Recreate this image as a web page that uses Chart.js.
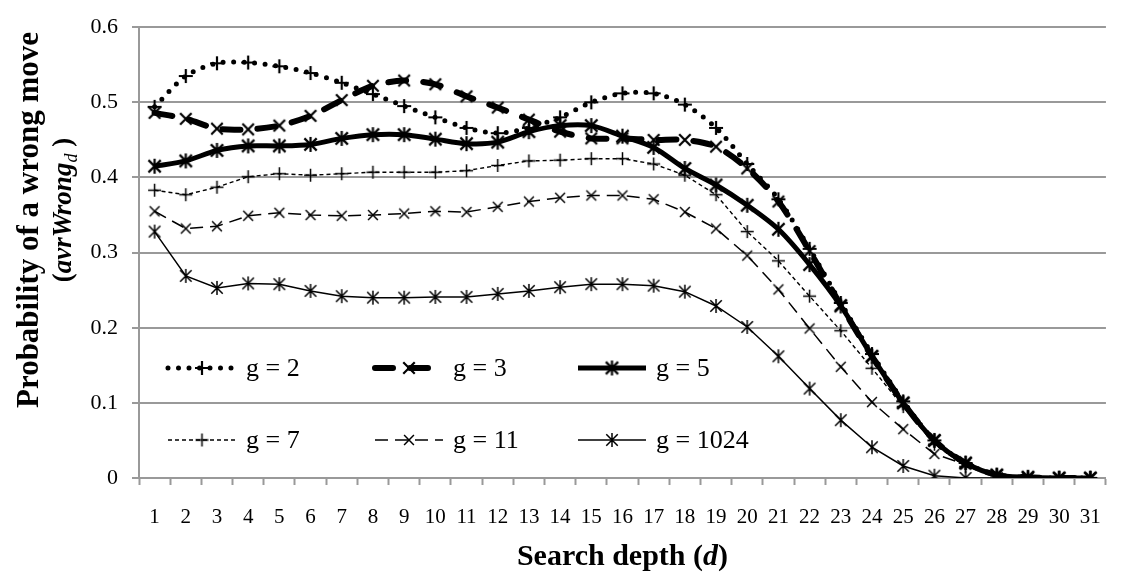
<!DOCTYPE html>
<html>
<head>
<meta charset="utf-8">
<script src="https://cdn.jsdelivr.net/npm/chart.js@4"></script>
<style>
  body { margin: 0; background: #fff; }
  #grafico { display: block; }
</style>
</head>
<body>
<canvas id="grafico" width="1121" height="573"></canvas>
<script>
// Profundidades de búsqueda (eje x)
const profundidades = Array.from({ length: 31 }, (_, i) => String(i + 1));

// Probabilidad de un movimiento erróneo para cada valor de g
const g2 = [0.494, 0.535, 0.552, 0.553, 0.548, 0.539, 0.526, 0.511, 0.495, 0.480, 0.466, 0.459, 0.466, 0.480, 0.500, 0.512, 0.512, 0.497, 0.466, 0.418, 0.371, 0.305, 0.233, 0.165, 0.102, 0.050, 0.020, 0.004, 0.001, 0, 0];
const g3 = [0.486, 0.478, 0.465, 0.464, 0.469, 0.482, 0.503, 0.522, 0.529, 0.524, 0.508, 0.493, 0.477, 0.461, 0.452, 0.452, 0.450, 0.450, 0.441, 0.412, 0.368, 0.302, 0.230, 0.162, 0.100, 0.050, 0.020, 0.004, 0.001, 0, 0];
const g5 = [0.415, 0.422, 0.436, 0.442, 0.442, 0.444, 0.452, 0.457, 0.457, 0.451, 0.445, 0.447, 0.461, 0.469, 0.469, 0.455, 0.440, 0.412, 0.390, 0.363, 0.331, 0.284, 0.229, 0.162, 0.100, 0.050, 0.020, 0.004, 0.001, 0, 0];
const g7 = [0.383, 0.377, 0.387, 0.401, 0.405, 0.403, 0.405, 0.407, 0.407, 0.407, 0.409, 0.416, 0.422, 0.423, 0.425, 0.425, 0.418, 0.403, 0.377, 0.328, 0.289, 0.242, 0.196, 0.146, 0.095, 0.045, 0.015, 0.003, 0, 0, 0];
const g11 = [0.355, 0.332, 0.335, 0.349, 0.353, 0.350, 0.349, 0.350, 0.352, 0.355, 0.354, 0.361, 0.368, 0.373, 0.376, 0.376, 0.371, 0.354, 0.332, 0.296, 0.251, 0.199, 0.148, 0.101, 0.065, 0.032, 0.018, 0.004, 0, 0, 0];
const g1024 = [0.328, 0.269, 0.253, 0.259, 0.258, 0.249, 0.242, 0.240, 0.240, 0.241, 0.241, 0.245, 0.249, 0.254, 0.258, 0.258, 0.256, 0.248, 0.229, 0.201, 0.162, 0.119, 0.077, 0.041, 0.016, 0.003, 0, 0, 0, 0, 0];

const etiquetas = ["g = 2", "g = 3", "g = 5", "g = 7", "g = 11", "g = 1024"];
const ticksY = [0, 0.1, 0.2, 0.3, 0.4, 0.5, 0.6];

const FUENTE = '"Liberation Serif", "Times New Roman", serif';
const GRIS = "#999999";

// Marcadores dibujados a mano: "mas" (+), "equis" (x), "estrella" (x con barra vertical)
function crearMarcador(tipo, tam, grosor) {
  const c = document.createElement("canvas");
  c.width = c.height = tam + 4;
  const ctx = c.getContext("2d");
  const m = c.width / 2;
  const r = tam / 2;
  ctx.strokeStyle = "#000";
  ctx.lineWidth = grosor;
  ctx.beginPath();
  if (tipo === "mas") {
    ctx.moveTo(m - r, m); ctx.lineTo(m + r, m);
    ctx.moveTo(m, m - r); ctx.lineTo(m, m + r);
  } else {
    const d = r * 0.82;
    ctx.moveTo(m - d, m - d); ctx.lineTo(m + d, m + d);
    ctx.moveTo(m - d, m + d); ctx.lineTo(m + d, m - d);
    if (tipo === "estrella") {
      ctx.moveTo(m, m - r); ctx.lineTo(m, m + r);
    }
  }
  ctx.stroke();
  return c;
}

function serie(label, data, estilo) {
  return Object.assign({
    label: label,
    data: data,
    borderColor: "#000",
    backgroundColor: "#000",
    fill: false,
    tension: 0,
    pointHitRadius: 0,
  }, estilo);
}

const datasets = [
  serie(etiquetas[0], g2, { borderWidth: 5, borderDash: [0, 10.5], borderCapStyle: "round", tension: 0.3, pointStyle: crearMarcador("mas", 14, 2.2) }),
  serie(etiquetas[1], g3, { borderWidth: 6, borderDash: [18, 17], borderCapStyle: "round", tension: 0.3, pointStyle: crearMarcador("equis", 14, 2.2) }),
  serie(etiquetas[2], g5, { borderWidth: 5, tension: 0.3, pointStyle: crearMarcador("estrella", 15, 2.2) }),
  serie(etiquetas[3], g7, { borderWidth: 1.4, borderDash: [4, 3], pointStyle: crearMarcador("mas", 13, 1.5) }),
  serie(etiquetas[4], g11, { borderWidth: 1.5, borderDash: [13, 7], pointStyle: crearMarcador("equis", 12, 1.5) }),
  serie(etiquetas[5], g1024, { borderWidth: 1.5, pointStyle: crearMarcador("estrella", 14, 1.5) }),
];

// Leyenda en tres columnas dentro del área del gráfico
const leyenda = {
  id: "leyendaPropia",
  afterDatasetsDraw(chart) {
    const ctx = chart.ctx;
    const columnas = [168, 375, 578];
    const filas = [368, 440];
    chart.data.datasets.forEach((ds, i) => {
      const x0 = columnas[i % 3];
      const x1 = x0 + 68;
      const y = filas[Math.floor(i / 3)];
      ctx.save();
      ctx.strokeStyle = "#000";
      ctx.lineWidth = ds.borderWidth;
      ctx.lineCap = ds.borderCapStyle || "butt";
      ctx.setLineDash(ds.borderDash || []);
      ctx.beginPath();
      ctx.moveTo(x0, y);
      ctx.lineTo(x1, y);
      ctx.stroke();
      ctx.setLineDash([]);
      const mk = ds.pointStyle;
      ctx.drawImage(mk, (x0 + x1) / 2 - mk.width / 2, y - mk.height / 2);
      ctx.fillStyle = "#000";
      ctx.font = "26px " + FUENTE;
      ctx.textBaseline = "middle";
      ctx.fillText(ds.label, x1 + 10, y + 1);
      ctx.restore();
    });
  },
};

// Texto con partes en negrita, cursiva y subíndice
function dibujarPartes(ctx, partes, cx, base) {
  let total = 0;
  partes.forEach((p) => { ctx.font = p.f; total += ctx.measureText(p.t).width; });
  let x = cx - total / 2;
  partes.forEach((p) => {
    ctx.font = p.f;
    ctx.fillText(p.t, x, base + (p.dy || 0));
    x += ctx.measureText(p.t).width;
  });
}

const titulos = {
  id: "titulosEjes",
  afterDraw(chart) {
    const ctx = chart.ctx;
    const area = chart.chartArea;
    ctx.save();
    ctx.fillStyle = "#000";
    ctx.textBaseline = "alphabetic";
    const b = "bold 30px " + FUENTE;
    const bi = "italic bold 30px " + FUENTE;
    dibujarPartes(ctx, [
      { t: "Search depth (", f: b },
      { t: "d", f: bi },
      { t: ")", f: b },
    ], (area.left + area.right) / 2, 565);

    // Título del eje y, girado
    ctx.rotate(-Math.PI / 2);
    dibujarPartes(ctx, [{ t: "Probability of a wrong move", f: "bold 31px " + FUENTE }], -220, 38);
    dibujarPartes(ctx, [
      { t: "(", f: "bold 27px " + FUENTE },
      { t: "avrWrong", f: "italic bold 27px " + FUENTE },
      { t: "d", f: "italic 18px " + FUENTE, dy: 6 },
      { t: " )", f: "bold 27px " + FUENTE },
    ], -210, 71);
    ctx.restore();
  },
};

new Chart(document.getElementById("grafico"), {
  type: "line",
  data: { labels: profundidades, datasets: datasets },
  options: {
    responsive: false,
    animation: false,
    devicePixelRatio: 1,
    layout: { padding: { top: 17, right: 4, left: 0, bottom: 0 } },
    plugins: { legend: { display: false }, tooltip: { enabled: false } },
    events: [],
    scales: {
      x: {
        offset: true,
        afterFit: (scale) => { scale.height = 95; },
        grid: { display: true, drawOnChartArea: false, offset: true, tickLength: 7, tickColor: GRIS, tickWidth: 2 },
        border: { display: true, color: GRIS, width: 2 },
        ticks: { color: "#000", font: { family: FUENTE, size: 21 }, padding: 20, maxRotation: 0, autoSkip: false },
      },
      y: {
        min: 0,
        max: 0.6,
        afterFit: (scale) => { scale.width = 139; },
        afterBuildTicks: (scale) => { scale.ticks = ticksY.map((v) => ({ value: v })); },
        grid: { color: GRIS, lineWidth: 2, tickLength: 7, tickColor: GRIS, tickWidth: 2 },
        border: { display: true, color: GRIS, width: 2 },
        ticks: {
          color: "#000",
          font: { family: FUENTE, size: 22 },
          padding: 14,
          callback: (v) => (v === 0 ? "0" : v.toFixed(1)),
        },
      },
    },
  },
  plugins: [leyenda, titulos],
});
</script>
</body>
</html>
